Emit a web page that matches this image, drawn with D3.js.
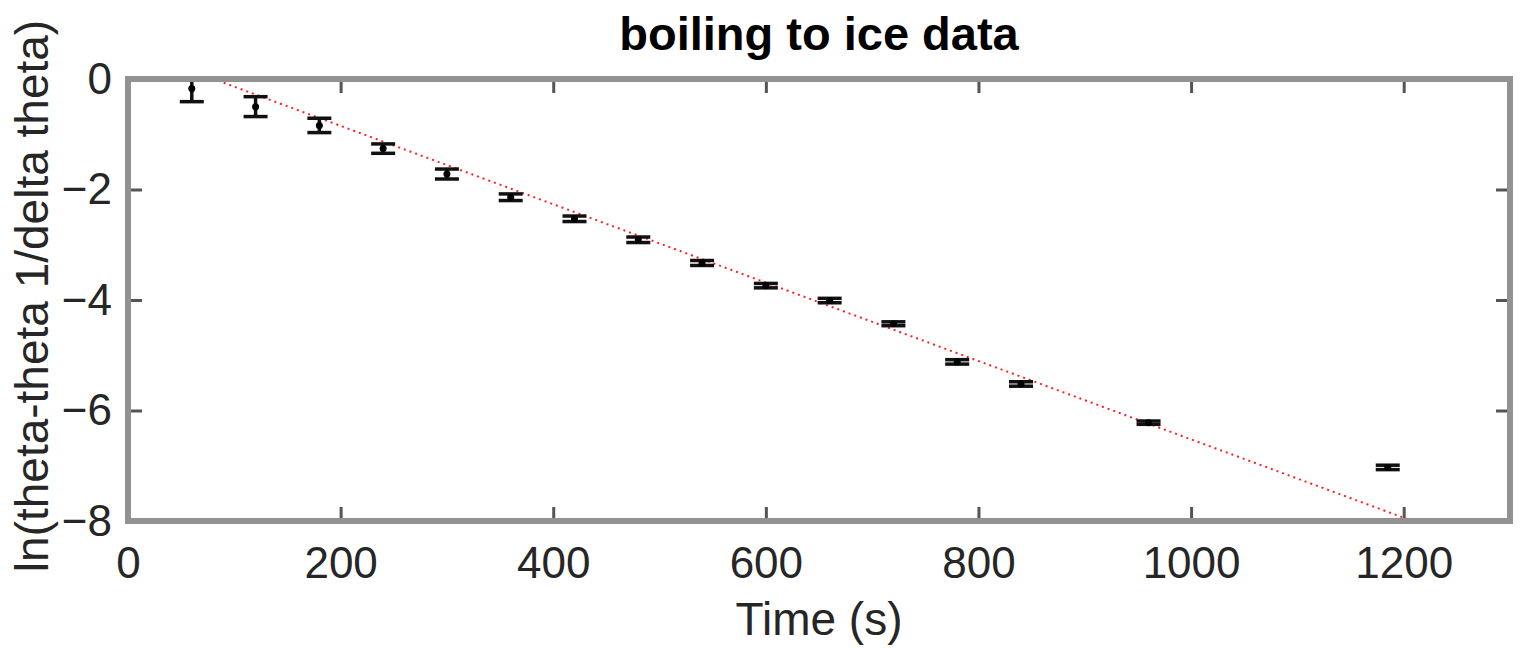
<!DOCTYPE html>
<html>
<head>
<meta charset="utf-8">
<script src="https://cdn.jsdelivr.net/npm/d3@7"></script>
<style>
  body { margin: 0; background: #fff; }
  text { font-family: "Liberation Sans", Arial, sans-serif; }
</style>
</head>
<body>
<div id="chart"></div>
<script>
// Data
const timeS = [60, 120, 180, 240, 300, 360, 420, 480, 540, 600, 660, 720, 780, 840, 960, 1185];
const lnRatio = [-0.17, -0.50, -0.84, -1.26, -1.72, -2.14, -2.53, -2.91, -3.33, -3.74, -4.01, -4.43, -5.12, -5.52, -6.22, -7.03];
const errHalf = [0.24, 0.18, 0.13, 0.085, 0.09, 0.06, 0.05, 0.05, 0.045, 0.04, 0.04, 0.035, 0.04, 0.04, 0.03, 0.04];
// Straight-line fit (endpoints)
const fitTime = [0, 1300];
const fitLn = [0.57, -8.65];
const xTicks = [0, 200, 400, 600, 800, 1000, 1200];
const yTicks = [0, -2, -4, -6, -8];

const W = 1522, H = 648;
const margin = { top: 79, right: 12, bottom: 127, left: 128 };
const width = W - margin.left - margin.right;   // 1382
const height = H - margin.top - margin.bottom;  // 442

const svg = d3.select("#chart")
    .append("svg")
    .attr("width", W)
    .attr("height", H);

const g = svg.append("g")
    .attr("transform", `translate(${margin.left},${margin.top})`);

const x = d3.scaleLinear().domain([0, 1300]).range([0, width]);
const y = d3.scaleLinear().domain([-8, 0]).range([height, 0]);

g.append("clipPath").attr("id", "clip")
    .append("rect").attr("x", 0).attr("y", 0).attr("width", width).attr("height", height);

// Title
svg.append("text")
    .attr("x", margin.left + width / 2)
    .attr("y", 50)
    .attr("text-anchor", "middle")
    .style("font-size", "47px")
    .style("font-weight", "bold")
    .attr("fill", "#000")
    .text("boiling to ice data");

// Fit line
const plot = g.append("g").attr("clip-path", "url(#clip)");
plot.append("line")
    .attr("x1", x(fitTime[0])).attr("y1", y(fitLn[0]))
    .attr("x2", x(fitTime[1])).attr("y2", y(fitLn[1]))
    .attr("stroke", "#ff2020")
    .attr("stroke-width", 2)
    .attr("stroke-dasharray", "2,4");

// Error bars
const pts = timeS.map((t, i) => ({ t: t, v: lnRatio[i], e: errHalf[i] }));
const capW = 12;
const eb = plot.selectAll(".eb").data(pts).enter().append("g").attr("class", "eb");
eb.append("line")
    .attr("x1", d => x(d.t)).attr("x2", d => x(d.t))
    .attr("y1", d => y(d.v + d.e)).attr("y2", d => y(d.v - d.e))
    .attr("stroke", "#111").attr("stroke-width", 3.5);
eb.append("line")
    .attr("x1", d => x(d.t) - capW).attr("x2", d => x(d.t) + capW)
    .attr("y1", d => y(d.v + d.e)).attr("y2", d => y(d.v + d.e))
    .attr("stroke", "#111").attr("stroke-width", 3.5);
eb.append("line")
    .attr("x1", d => x(d.t) - capW).attr("x2", d => x(d.t) + capW)
    .attr("y1", d => y(d.v - d.e)).attr("y2", d => y(d.v - d.e))
    .attr("stroke", "#111").attr("stroke-width", 3.5);
eb.append("circle")
    .attr("cx", d => x(d.t)).attr("cy", d => y(d.v))
    .attr("r", 3.5).attr("fill", "#000");

// Axes (ticks pointing inward, on all four sides)
const tickLen = 14;
const axStyle = sel => {
    sel.select(".domain").remove();
    sel.selectAll(".tick line").attr("stroke", "#555").attr("stroke-width", 3);
};
g.append("g")
    .attr("transform", `translate(0,${height})`)
    .call(d3.axisBottom(x).tickValues(xTicks).tickSize(-tickLen).tickPadding(26).tickFormat(d3.format("d")))
    .call(axStyle)
    .selectAll("text")
    .attr("fill", "#262626")
    .style("font-size", "44px");
g.append("g")
    .call(d3.axisTop(x).tickValues(xTicks).tickSize(-tickLen).tickFormat(""))
    .call(axStyle);
g.append("g")
    .call(d3.axisLeft(y).tickValues(yTicks).tickSize(-tickLen).tickPadding(16).tickFormat(d3.format("d")))
    .call(axStyle)
    .selectAll("text")
    .attr("fill", "#262626")
    .style("font-size", "44px");
g.append("g")
    .attr("transform", `translate(${width},0)`)
    .call(d3.axisRight(y).tickValues(yTicks).tickSize(-tickLen).tickFormat(""))
    .call(axStyle);

// Frame
g.append("rect")
    .attr("x", 0).attr("y", 0)
    .attr("width", width).attr("height", height)
    .attr("fill", "none")
    .attr("stroke", "#929292")
    .attr("stroke-width", 6);

// Axis labels
svg.append("text")
    .attr("x", margin.left + width / 2)
    .attr("y", 635)
    .attr("text-anchor", "middle")
    .attr("fill", "#262626")
    .style("font-size", "46px")
    .text("Time (s)");

svg.append("text")
    .attr("transform", "translate(48,296) rotate(-90)")
    .attr("text-anchor", "middle")
    .attr("fill", "#262626")
    .style("font-size", "46px")
    .text("ln(theta-theta 1/delta theta)");
</script>
</body>
</html>
